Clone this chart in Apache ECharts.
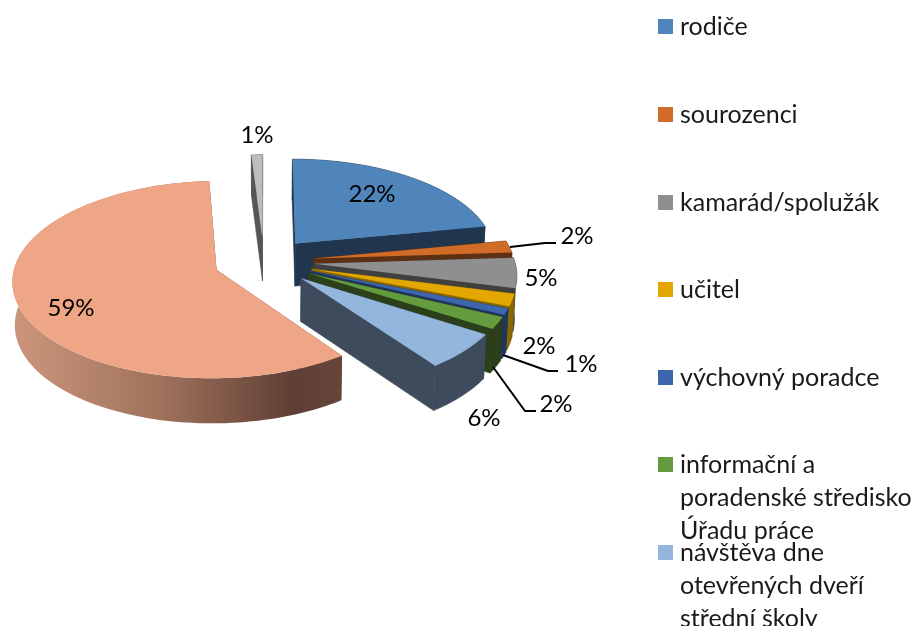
<!DOCTYPE html>
<html><head><meta charset="utf-8">
<style>html,body{margin:0;padding:0;background:#fff}#c{width:912px;height:626px}</style>
<script src="https://cdn.jsdelivr.net/npm/echarts@6/dist/echarts.min.js"></script>
</head><body><div id="c"></div>
<script>
const categories = ['rodiče','sourozenci','kamarád/spolužák','učitel','výchovný poradce',
  'informační a\nporadenské středisko\nÚřadu práce','návštěva dne\notevřených dveří\nstřední školy','jiné','ostatní'];
const values = [22,2,5,2,1,2,6,59,1];
const topColors  = ['#4f85ba','#d06b28','#8f8f8f','#e3a700','#3c66ae','#639b3e','#94b6dd','#efa686','#bdbdbd'];
const wallColors = ['#1f364e','#5e3013','#404040','#8a6700','#1f3560','#2a3f1a','#3d4b5c','#b5806a','#555555'];
const drawOrder = [8,7,0,1,2,3,4,5,6];
const legendCount = 7;
const legendTops = [10,98,186,273,361,382,470];
const labelSpots = [[372,194],[577,236],[541,278],[539,346],[581,364],[556,404],[484,418],[71,308],[257,135]];
const leaderLines = [
  [1,[[510,247],[545,243],[556,243]]],
  [4,[[503,355],[548,371],[558,371]]],
  [5,[[493,367],[525,411],[536,411]]]
];
// projection of the pie
const CX=264, CY=261.5, R=201, EXPLODE=50, TILT=0.478, PERSP=0.0995, DEPTH=43, BOTTOM_SCALE=0.99;
const FONT='Lato';
const total = values.reduce((a,b)=>a+b,0);
const cum=[]; values.reduce((a,v,i)=>(cum[i]=a,a+v),0);
const rad=p=>p/total*2*Math.PI;
function project(X,Y,bottom){
  const s=1/(1-PERSP*Y/R);
  const x=X*s, y=Y*TILT*s;
  return bottom ? [CX+x*BOTTOM_SCALE, CY+y+DEPTH*(1+(s-1)*0.4)] : [CX+x, CY+y];
}
function sliceGeom(i){
  const a0=rad(cum[i]), a1=rad(cum[i]+values[i]), m=(a0+a1)/2;
  const ax=EXPLODE*Math.sin(m), ay=-EXPLODE*Math.cos(m);
  const arc=[]; const n=Math.max(4,Math.ceil((a1-a0)/0.03));
  for(let k=0;k<=n;k++){const t=a0+(a1-a0)*k/n; arc.push([ax+R*Math.sin(t),ay-R*Math.cos(t)]);}
  return {apex:[ax,ay],arc};
}
function poly(points,fill,seam){
  return {type:'polygon',shape:{points},style:seam?{fill,stroke:fill,lineWidth:0.6}:{fill,stroke:null}};
}
function renderSlice(i){
  const g=sliceGeom(i);
  const isGrad = i===7;
  const wallFill = isGrad ? new echarts.graphic.LinearGradient(0,0,1,0,[
      {offset:0,color:'#cc967c'},{offset:0.45,color:'#a0725c'},{offset:0.85,color:'#5f3f35'},{offset:1,color:'#664539'}]) : wallColors[i];
  const at=project(g.apex[0],g.apex[1],false), ab=project(g.apex[0],g.apex[1],true);
  const tops=g.arc.map(p=>project(p[0],p[1],false));
  const bots=g.arc.map(p=>project(p[0],p[1],true));
  const f=tops[0],l=tops[tops.length-1],fb=bots[0],lb=bots[bots.length-1];
  const faceFill = isGrad ? '#5f3f35' : wallColors[i];
  return {type:'group',children:[
    poly([at,f,fb,ab],faceFill,!isGrad),
    poly([at,l,lb,ab],faceFill,!isGrad),
    poly(tops.concat(bots.slice().reverse()),wallFill,!isGrad),
    poly([at].concat(tops),topColors[i],false)
  ]};
}
const series=drawOrder.map(i=>({
  type:'custom',name:categories[i],coordinateSystem:'none',silent:true,animation:false,clip:false,
  itemStyle:{color:topColors[i]},
  data:[[values[i]]],
  renderItem:()=>renderSlice(i)
}));
const legends=categories.slice(0,legendCount).map((n,i)=>({
  data:[{name:n,icon:'rect'}],left:658,top:legendTops[i],orient:'vertical',padding:0,
  itemWidth:15,itemHeight:15,itemGap:0,selectedMode:false,
  itemStyle:{borderWidth:0},
  formatter:s=>{const c=s.split('\n').length-1;return '\n'.repeat(c)+s;},
  textStyle:{fontFamily:FONT,fontSize:25,color:'#1a1a1a',lineHeight:33,padding:[0,0,0,2]}
}));
const graphics=[];
values.forEach((v,i)=>graphics.push({type:'text',z:50,x:labelSpots[i][0],y:labelSpots[i][1],
  style:{text:v+'%',font:'24px '+FONT,fill:'#000',textAlign:'center',textVerticalAlign:'middle'}}));
leaderLines.forEach(l=>graphics.push({type:'polyline',z:49,shape:{points:l[1]},style:{stroke:'#000',lineWidth:2,fill:null}}));
const chart=echarts.init(document.getElementById('c'),null,{renderer:'canvas'});
chart.setOption({animation:false,backgroundColor:'#fff',legend:legends,series,graphic:graphics});
</script></body></html>
